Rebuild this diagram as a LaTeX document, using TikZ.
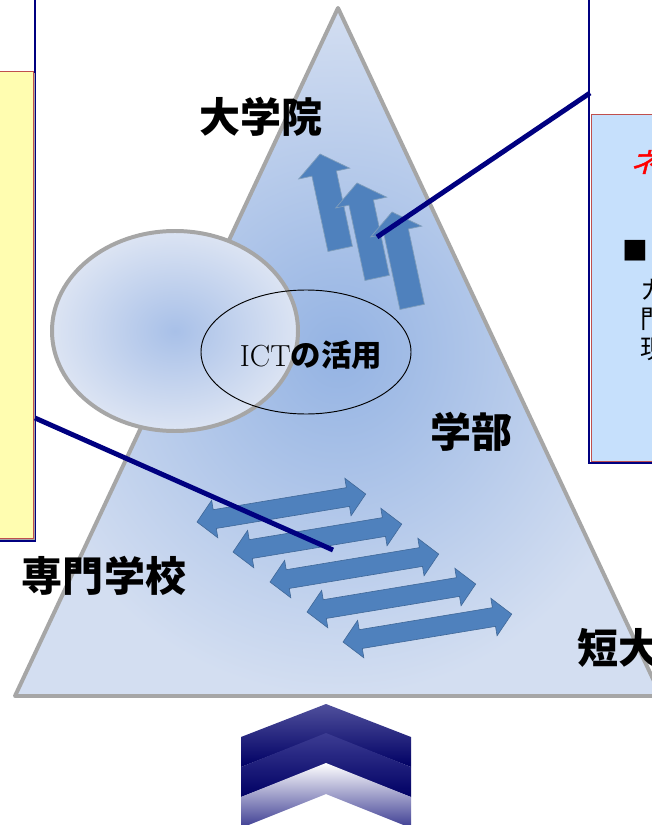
\documentclass[tikz,border=0pt]{standalone}
\usepackage{fontspec}
\newfontfamily\jp{Noto Sans CJK JP}
\newfontfamily\jpslant[FakeSlant=0.25,FakeBold=1.5]{Noto Sans CJK JP}
\definecolor{navyline}{HTML}{000080}
\definecolor{tribord}{HTML}{A6A6A6}
\definecolor{tricenter}{HTML}{94B3E3}
\definecolor{triedge}{HTML}{D3DEF1}
\definecolor{circcenter}{HTML}{A8C0E8}
\definecolor{circedge}{HTML}{DCE4F3}
\definecolor{arrowfill}{HTML}{4F81BD}
\definecolor{arrowdraw}{HTML}{7F9DBB}
\definecolor{boxred}{HTML}{C0504D}
\definecolor{yellowbox}{HTML}{FFFDB0}
\definecolor{bluebox}{HTML}{C6E0FC}
\definecolor{chevlight}{HTML}{50509C}
\definecolor{chevdark}{HTML}{000064}
\definecolor{chevmid}{HTML}{3C3C92}
\tikzset{
  uparrowshape/.style={fill=arrowfill, draw=arrowdraw, line width=0.6pt, line join=miter},
  dblarrowshape/.style={fill=arrowfill, draw=arrowfill!80!black, line width=0.5pt},
  levellabel/.style={font=\jp\bfseries\fontsize{35}{40}\selectfont, inner sep=0pt},
  boxtext/.style={font=\jp\fontsize{22}{26}\selectfont, inner sep=0pt, anchor=west},
  connector/.style={draw=navyline, line width=4.2pt},
  framebox/.style={draw=navyline, line width=2pt}
}
\begin{document}
\begin{tikzpicture}[x=0.03cm,y=-0.03cm]
\useasboundingbox (0,0) rectangle (651,825);
\fill[white] (0,0) rectangle (651,825);

% left callout frame and yellow box
\draw[framebox] (-20,-20) rectangle (35,541);
\fill[gray!70] (-20,73) rectangle (35,540);
\draw[fill=yellowbox, draw=boxred, line width=0.8pt] (-20,71) rectangle (33,538);

% right callout frame and blue box
\draw[framebox] (589,-20) rectangle (700,463);
\draw[fill=bluebox, draw=boxred, line width=0.8pt] (591,114) rectangle (700,461);
\node[font=\jpslant\fontsize{24}{28}\selectfont, text=red, inner sep=0pt, anchor=west] (boxtitle) at (630,162) {ネ};
\node[font=\jp\fontsize{22}{26}\selectfont, inner sep=0pt, anchor=west] (boxbullet) at (622,251) {■};
\node[boxtext] (line1) at (640,290) {カ};
\node[boxtext] (line2) at (640,319) {門};
\node[boxtext] (line3) at (640,349) {現};

% triangle
\shade[inner color=tricenter, outer color=triedge] (338,8) -- (15,696) -- (661,696) -- cycle;
\draw[tribord, line width=3.4pt, line join=round] (338,8) -- (15,696) -- (661,696) -- cycle;

% circle
\shade[inner color=circcenter, outer color=circedge] (175,331) ellipse [x radius=123, y radius=100];
\draw[tribord, line width=3.4pt] (175,331) ellipse [x radius=123, y radius=100];

% ICT ellipse
\draw[black, line width=0.8pt] (306,352) ellipse [x radius=105, y radius=62];
\node[inner sep=0pt, font=\fontsize{26}{30}\selectfont] (ict) at (311,355) {ICT{\jp\bfseries の活用}};

% up arrows
\foreach \tx/\ty in {320/154, 357/183, 392/212}{
  \begin{scope}[shift={(\tx,\ty)}, rotate=12]
    \path[uparrowshape] (0,0) -- (26,20) -- (12.5,20) -- (12.5,97) -- (-12.5,97) -- (-12.5,20) -- (-26,20) -- cycle;
  \end{scope}
}

% double arrows
\foreach \lx/\ly in {197/522, 233/552, 270/582, 307/612, 343/642}{
  \begin{scope}[shift={(\lx,\ly)}, rotate=9.4]
    \path[dblarrowshape] (0,0) -- (18,-19) -- (18,-9.5) -- (153,-9.5) -- (153,-19) -- (171,0)
      -- (153,19) -- (153,9.5) -- (18,9.5) -- (18,19) -- cycle;
  \end{scope}
}

% labels
\node[levellabel] (grad) at (261,117) {大学院};
\node[levellabel] (univ) at (471,432) {学部};
\node[levellabel] (voc) at (104,576) {専門学校};
\node[levellabel, anchor=west] (junior) at (577,648) {短大};

% connectors
\coordinate (rightframe) at (590,93);
\coordinate (uparrows) at (377,237);
\coordinate (leftframe) at (35,418);
\coordinate (dblarrows) at (333,550);
\draw[connector] (rightframe) -- (uparrows);
\draw[connector] (leftframe) -- (dblarrows);

% chevrons
\shade[top color=chevlight, bottom color=chevdark] (241,737) -- (326,704) -- (411,737) -- (411,767) -- (326,734) -- (241,767) -- cycle;
\shade[top color=chevmid, bottom color=chevdark] (241,767) -- (326,733) -- (411,767) -- (411,797) -- (326,764) -- (241,797) -- cycle;
\shade[top color=white, bottom color=chevmid] (241,797) -- (326,763) -- (411,797) -- (411,828) -- (326,794) -- (241,828) -- cycle;
\end{tikzpicture}
\end{document}
